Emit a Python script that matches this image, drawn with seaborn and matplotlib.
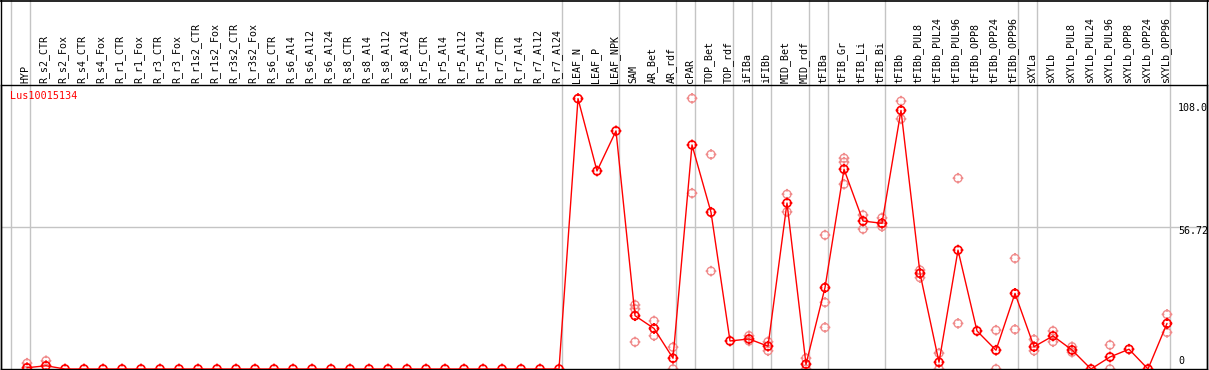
import numpy as np
import pandas as pd
import seaborn as sns
import matplotlib.pyplot as plt
from matplotlib.path import Path
from matplotlib.lines import Line2D
from matplotlib.transforms import blended_transform_factory

# sample names, in plotting order
categories = ['HYP',
              'R_s2_CTR', 'R_s2_Fox', 'R_s4_CTR', 'R_s4_Fox', 'R_r1_CTR', 'R_r1_Fox',
              'R_r3_CTR', 'R_r3_Fox', 'R_r1s2_CTR', 'R_r1s2_Fox', 'R_r3s2_CTR', 'R_r3s2_Fox',
              'R_s6_CTR', 'R_s6_Al4', 'R_s6_Al12', 'R_s6_Al24', 'R_s8_CTR', 'R_s8_Al4',
              'R_s8_Al12', 'R_s8_Al24', 'R_r5_CTR', 'R_r5_Al4', 'R_r5_Al12', 'R_r5_Al24',
              'R_r7_CTR', 'R_r7_Al4', 'R_r7_Al12', 'R_r7_Al24',
              'LEAF_N', 'LEAF_P', 'LEAF_NPK', 'SAM', 'AR_Bet', 'AR_rdf', 'cPAR',
              'TOP_Bet', 'TOP_rdf', 'iFIBa', 'iFIBb', 'MID_Bet', 'MID_rdf',
              'tFIBa', 'tFIB_Gr', 'tFIB_Li', 'tFIB_Bi', 'tFIBb',
              'tFIBb_PUL8', 'tFIBb_PUL24', 'tFIBb_PUL96', 'tFIBb_OPP8', 'tFIBb_OPP24', 'tFIBb_OPP96',
              'sXYLa', 'sXYLb',
              'sXYLb_PUL8', 'sXYLb_PUL24', 'sXYLb_PUL96', 'sXYLb_OPP8', 'sXYLb_OPP24', 'sXYLb_OPP96']

# mean expression per sample
mean_values = [0.5, 1.3] + [0.0] * 27 + [
    108.0, 79.1, 95.1, 21.3, 16.2, 4.3, 89.5,
    62.6, 11.2, 12.0, 9.1, 66.3, 1.9,
    32.5, 79.8, 59.1, 58.2, 103.3,
    38.2, 2.7, 47.5, 15.2, 7.5, 30.2,
    8.9, 13.2,
    7.6, 0.0, 4.8, 7.9, 0.0, 18.2]

# individual replicates (None = hidden under the mean marker)
N = None
rep_a = [2.3, 3.3] + [N] * 27 + [
    N, N, N, 25.6, 19.2, 8.7, 108.1,
    85.7, N, 13.3, 10.9, 69.8, 4.3,
    53.5, 84.2, 61.5, 60.4, 107.0,
    39.5, 6.3, 76.2, N, 15.5, 44.2,
    11.8, 15.2,
    8.9, N, 9.6, N, N, 21.8]
rep_b = [N, N] + [N] * 27 + [
    N, N, N, 24.0, 13.3, 0.0, 70.2,
    39.1, N, 11.2, 7.3, 62.8, 0.0,
    26.6, 82.6, 55.9, 56.9, 99.9,
    36.5, 0.0, 18.2, N, 0.0, 15.8,
    7.3, 10.9,
    6.7, N, 0.0, N, N, 14.6]
rep_c = [N, N] + [N] * 27 + [
    N, N, N, 10.8, N, N, N,
    N, N, N, N, N, N,
    16.6, 73.8, N, N, N,
    N, N, N, N, N, N,
    N, N,
    N, N, N, N, N, N]

gene_name = 'Lus10015134'
axis_labels = ['108.0', '56.72', '0']
axis_values = [108.0, 56.72, 0.0]
group_ends = ['HYP', 'R_r7_Al24', 'LEAF_NPK', 'AR_rdf', 'cPAR', 'TOP_rdf', 'iFIBa', 'iFIBb',
              'MID_rdf', 'tFIBa', 'tFIB_Bi', 'tFIBb_OPP96', 'sXYLa', 'sXYLb_OPP96']

mean_df = pd.DataFrame({'pos': np.arange(len(categories)), 'sample': categories,
                        'value': mean_values})
rep_df = pd.DataFrame({'pos': np.arange(len(categories)),
                       'a': rep_a, 'b': rep_b, 'c': rep_c})
rep_df = rep_df.melt(id_vars='pos', value_name='value').dropna()

# circle marker with little ticks, like the original tool draws
ticks = Path([(0, 0.65), (0, 1.35), (0, -0.65), (0, -1.35),
              (0.65, 0), (1.35, 0), (-0.65, 0), (-1.35, 0)],
             [Path.MOVETO, Path.LINETO] * 4)
tick_circle = Path.make_compound_path(Path.unit_circle(), ticks)

sns.set_style('white')
plt.rcParams['font.family'] = ['DejaVu Sans Mono', 'DejaVu Sans']
plt.rcParams['text.color'] = 'black'

W, H = 1209, 370
fig = plt.figure(figsize=(W / 100, H / 100), dpi=100)
ax = fig.add_axes([1 / W, 1 / H, 1206 / W, 284 / H])
ax.set_xlim((1 - 27) / 19, (1207 - 27) / 19)
ax.set_ylim(0, 2 * axis_values[1])

grey = '#c4c4c4'
ax.axhline(axis_values[1], color=grey, lw=1, zorder=0)
ax.axvline(-1 + 3 / 19, ymin=0, ymax=H / 284, color=grey, lw=1, clip_on=False, zorder=0)
for name in group_ends:
    ax.axvline(categories.index(name) + 3 / 19, ymin=0, ymax=H / 284,
               color=grey, lw=1, clip_on=False, zorder=0)

sns.scatterplot(data=rep_df, x='pos', y='value', marker=tick_circle, s=60,
                facecolor='none', edgecolor='#f08c8c', linewidth=1, ax=ax, zorder=2)
sns.lineplot(data=mean_df, x='pos', y='value', color='#ff0000', lw=1, ax=ax, zorder=3)
sns.scatterplot(data=mean_df, x='pos', y='value', marker=tick_circle, s=60,
                facecolor='none', edgecolor='#ff0000', linewidth=1.2, ax=ax, zorder=4)

# sample labels in the header
trans = blended_transform_factory(ax.transData, ax.transAxes)
for i, name in enumerate(categories):
    ax.text(i - 0.1, 1 + 2 / 284, name, rotation=90, ha='center', va='bottom',
            fontsize=7.2, color='black', transform=trans, clip_on=False)

ax.text(9 / 1206, 1 - 6 / 284, gene_name, color='#ff0000', fontsize=7.3,
        ha='left', va='top', transform=ax.transAxes)

# value labels on the right
offsets = [-6.5, -2.9, 5.4]
trans_r = blended_transform_factory(ax.transAxes, ax.transData)
for lab, val, off in zip(axis_labels, axis_values, offsets):
    ax.annotate(lab, xy=((1178 - 1) / 1206, val), xycoords=trans_r,
                xytext=(0, off), textcoords='offset points', color='black',
                ha='left', va='center', fontsize=7.2, annotation_clip=False)

ax.set_xticks([])
ax.set_yticks([])
ax.set_xlabel('')
ax.set_ylabel('')
for sp in ax.spines.values():
    sp.set_color('black')
    sp.set_linewidth(1)

# outer frame around the header as well
fig.add_artist(Line2D([1 / W, 1 / W], [0, 1], color='black', lw=1))
fig.add_artist(Line2D([1207 / W, 1207 / W], [0, 1], color='black', lw=1))
fig.add_artist(Line2D([0, 1], [1 - 0.7 / H, 1 - 0.7 / H], color='black', lw=1.2))

fig.savefig('out.png', dpi=100)
